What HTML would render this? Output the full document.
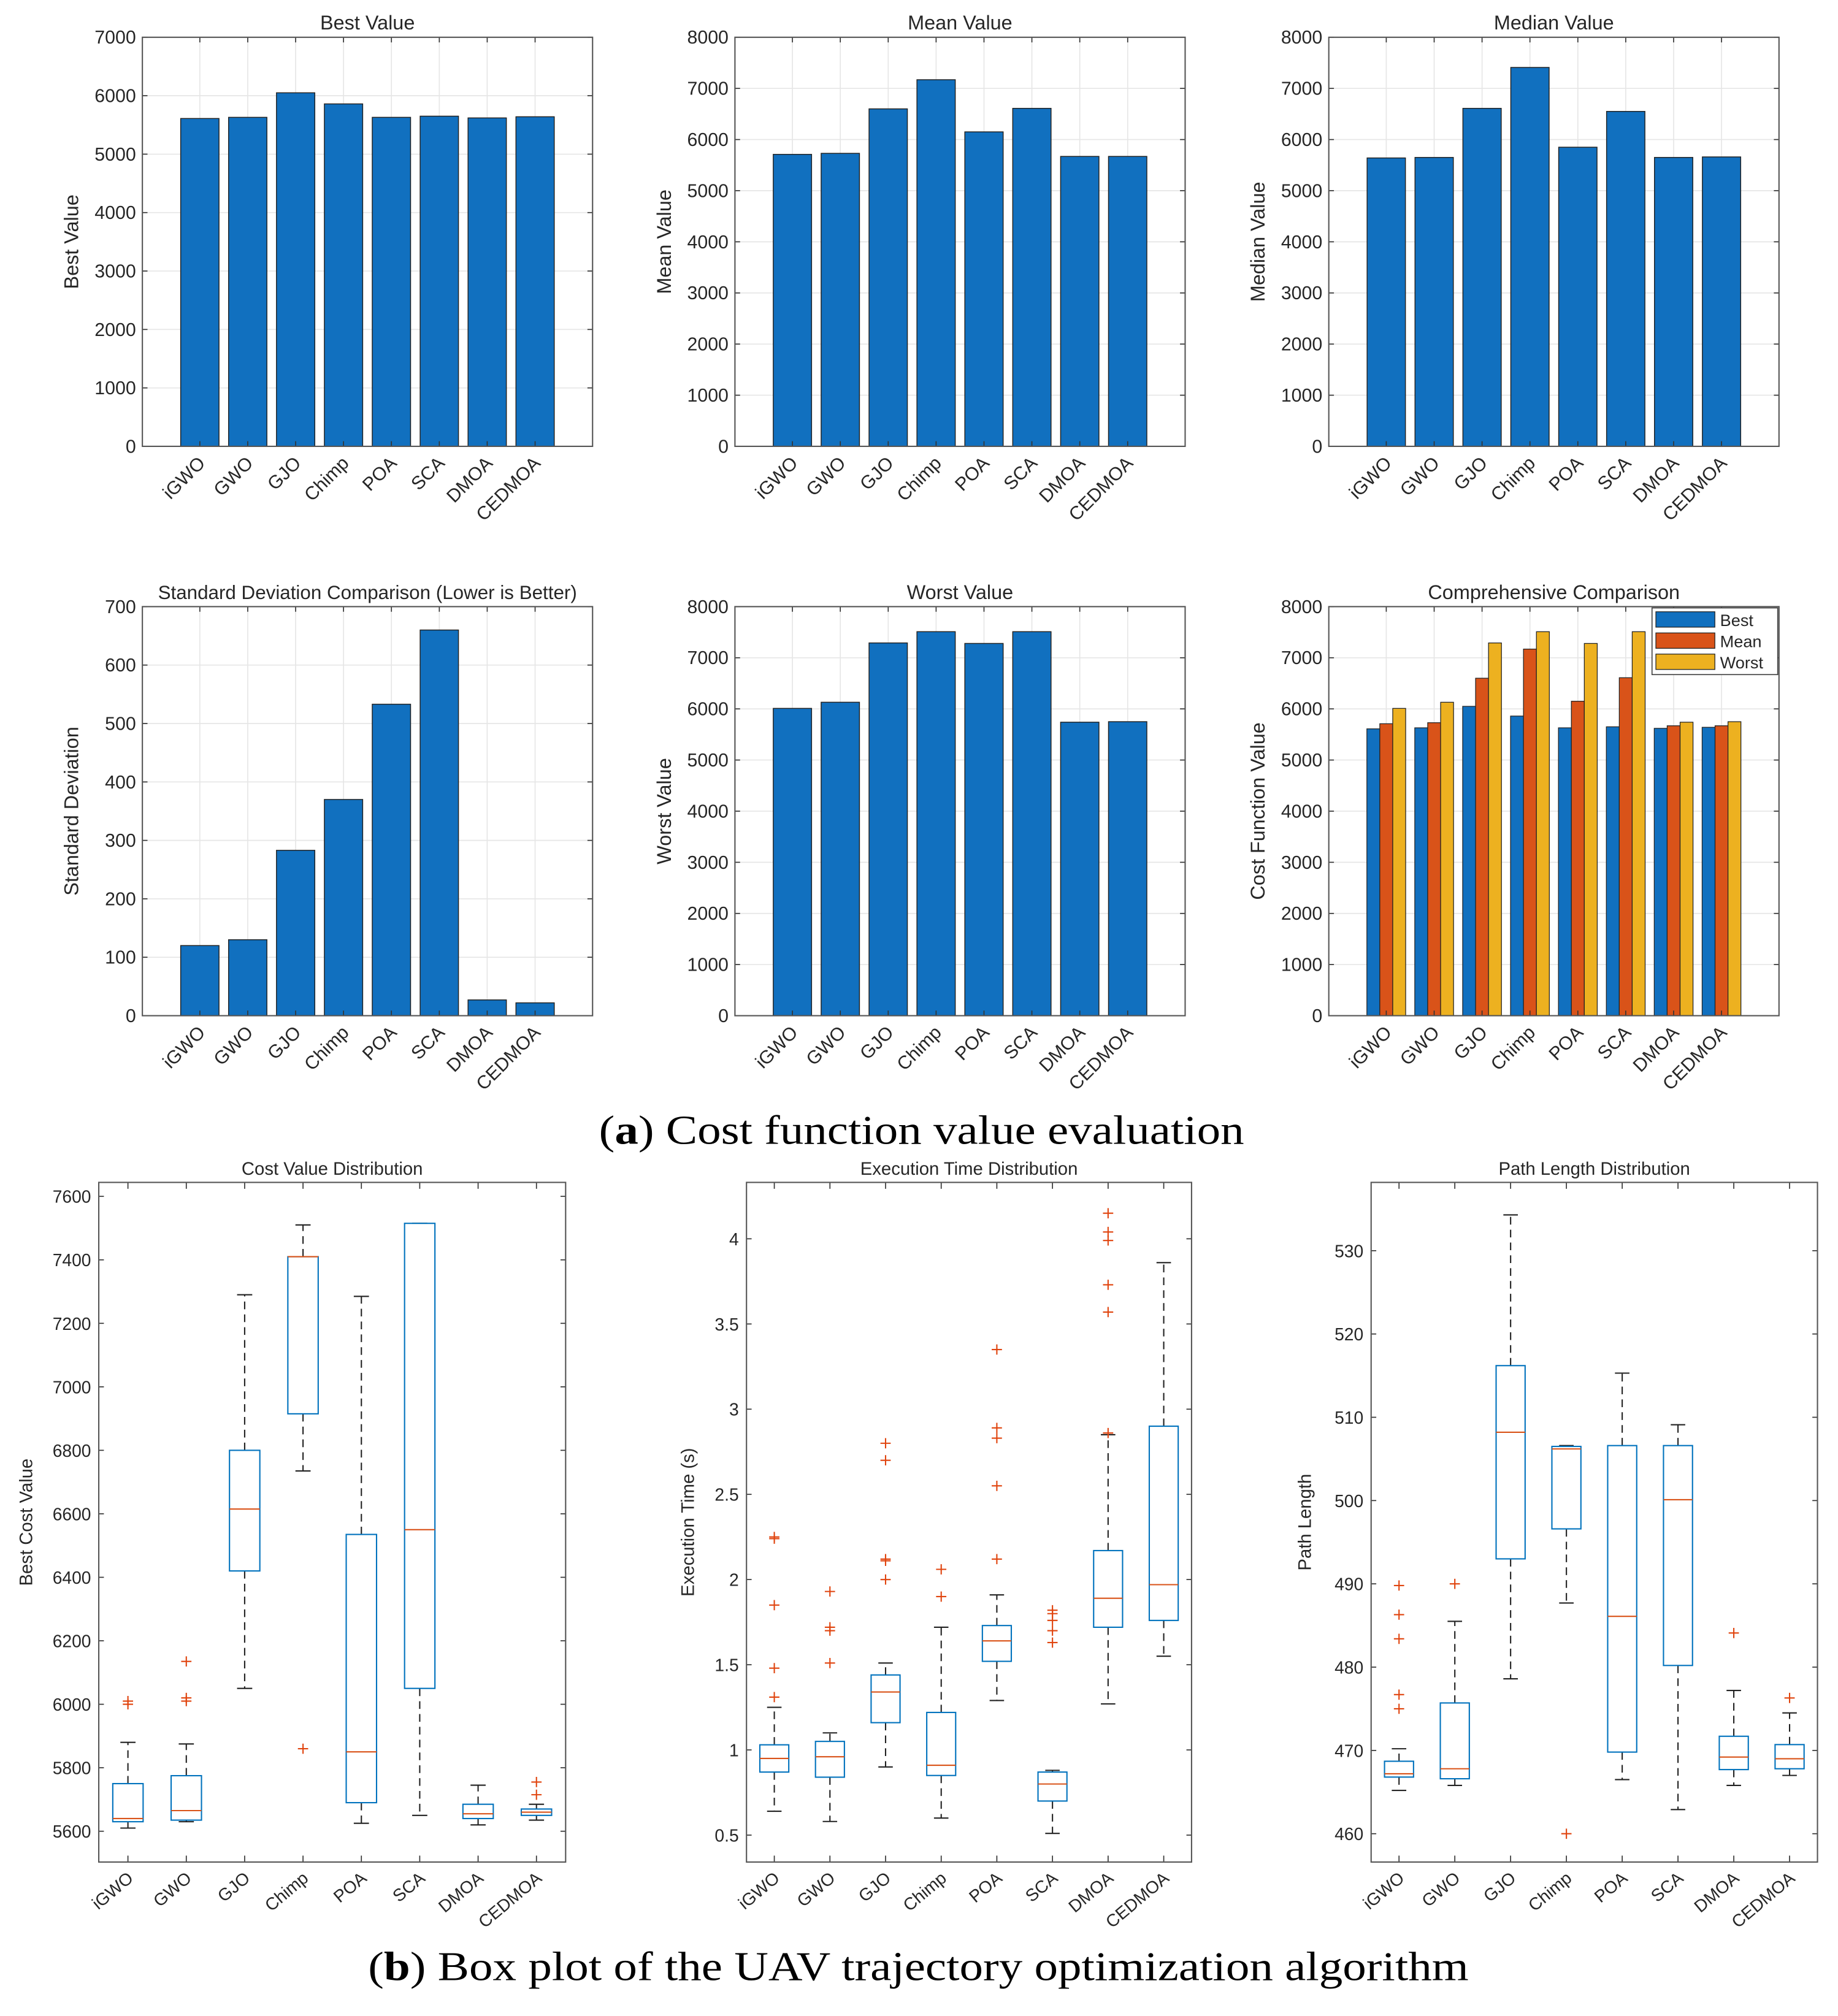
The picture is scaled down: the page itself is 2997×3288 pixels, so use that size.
<!DOCTYPE html>
<html><head><meta charset="utf-8">
<style>
html,body{margin:0;padding:0;background:#fff;}
svg{display:block;}
text{font-family:"Liberation Sans",Arial,sans-serif;fill:#262626;}
.cap{font-family:"Liberation Serif","Times New Roman",serif;fill:#000;}
</style></head>
<body>
<svg id="fig" xmlns="http://www.w3.org/2000/svg" width="2997" height="3288" viewBox="0 0 1433 1572">
<rect x="0" y="0" width="1433" height="1572" fill="#fff"/>
<text class="cap" x="467" y="892" font-size="32" textLength="503" lengthAdjust="spacingAndGlyphs">(<tspan font-weight="bold">a</tspan>) Cost function value evaluation</text>
<text class="cap" x="287" y="1544" font-size="32" textLength="858" lengthAdjust="spacingAndGlyphs">(<tspan font-weight="bold">b</tspan>) Box plot of the UAV trajectory optimization algorithm</text>
</svg>
<script>
const categories = ["iGWO","GWO","GJO","Chimp","POA","SCA","DMOA","CEDMOA"];
const bestValues = [5610,5630,6050,5860,5630,5650,5620,5640];
const meanValues = [5710,5730,6600,7170,6150,6610,5670,5670];
const medianValues = [5640,5650,6610,7410,5850,6550,5650,5660];
const stdValues = [120,130,283,370,533,660,27,22];
const worstValues = [6010,6130,7290,7510,7280,7510,5740,5750];
const ticks7000 = [0,1000,2000,3000,4000,5000,6000,7000];
const ticks8000 = [0,1000,2000,3000,4000,5000,6000,7000,8000];
const ticks700 = [0,100,200,300,400,500,600,700];
// box stats: [q1, median, q3, whiskerLow, whiskerHigh]
const costBoxes = [[5630,5640,5750,5610,5880],[5635,5665,5775,5630,5875],[6420,6615,6800,6050,7290],[6915,7410,7410,6735,7510],[5690,5850,6535,5625,7285],[6050,6550,7515,5650,7515],[5640,5655,5685,5620,5745],[5650,5660,5670,5635,5685]];
const costOutliers = [[6000,6010],[6010,6020,6135],[],[5860],[],[],[],[5715,5755]];
const timeBoxes = [[0.87,0.95,1.03,0.64,1.25],[0.84,0.96,1.05,0.58,1.10],[1.16,1.34,1.44,0.90,1.51],[0.85,0.91,1.22,0.60,1.72],[1.52,1.64,1.73,1.29,1.91],[0.70,0.80,0.87,0.51,0.88],[1.72,1.89,2.17,1.27,2.85],[1.76,1.97,2.90,1.55,3.86]];
const timeOutliers = [[1.31,1.48,1.85,2.24,2.25],[1.51,1.70,1.72,1.93],[2.00,2.11,2.12,2.70,2.80],[1.90,2.06],[2.12,2.55,2.83,2.89,3.35],[1.63,1.70,1.76,1.80,1.82],[2.86,3.57,3.73,3.99,4.04,4.15],[]];
const pathBoxes = [[466.8,467.2,468.7,465.2,470.2],[466.6,467.8,475.7,465.8,485.5],[493.0,508.2,516.2,478.6,534.3],[496.6,506.2,506.5,487.7,506.6],[469.8,486.1,506.6,466.5,515.3],[480.2,500.1,506.6,462.9,509.1],[467.7,469.2,471.7,465.8,477.2],[467.8,469.0,470.7,467.0,474.5]];
const pathOutliers = [[475,476.7,483.4,486.3,489.8],[490],[],[460],[],[],[484.1],[476.3]];
const costTicks = [5600,5800,6000,6200,6400,6600,6800,7000,7200,7400,7600];
const timeTicks = [0.5,1,1.5,2,2.5,3,3.5,4];
const timeTickLabels = ["0.5","1","1.5","2","2.5","3","3.5","4"];
const pathTicks = [460,470,480,490,500,510,520,530];
const seriesNames = ["Best","Mean","Worst"];

const NS="http://www.w3.org/2000/svg";
const svg=document.getElementById('fig');
function mk(tag,attrs,parent){const e=document.createElementNS(NS,tag);for(const k in attrs)e.setAttribute(k,attrs[k]);(parent||svg).appendChild(e);return e;}
const BLUE="#1170bf",ORANGE="#d95319",YELLOW="#edb120",BOXC="#0072bd";

function barAxes(name,x0,x1,y0,y1,ymax,ticks,title,ylabel,titleSize){
  const g=mk('g',{});
  
  
  const ys=v=>y1-(v/ymax)*(y1-y0);
  const xs=i=>x0+(i+1.2)*(x1-x0)/9.4;
  const step=(x1-x0)/9.4;
  mk('rect',{x:x0,y:y0,width:x1-x0,height:y1-y0,fill:'#fff'},g);
  ticks.forEach(t=>{
    mk('line',{x1:x0,x2:x1,y1:ys(t),y2:ys(t),stroke:'#e6e6e6','stroke-width':0.8},g);
    mk('line',{x1:x0,x2:x0+4,y1:ys(t),y2:ys(t),stroke:'#333','stroke-width':0.8},g);
    mk('line',{x1:x1,x2:x1-4,y1:ys(t),y2:ys(t),stroke:'#333','stroke-width':0.8},g);
    const tl=mk('text',{x:x0-5,y:ys(t)+5,'font-size':14.5,'text-anchor':'end'},g);
    
    
    tl.textContent=t;
  });
  categories.forEach((c,i)=>{
    mk('line',{x1:xs(i),x2:xs(i),y1:y0,y2:y1,stroke:'#e6e6e6','stroke-width':0.8},g);
  });
  const t=mk('text',{x:(x0+x1)/2,y:y0-6,'font-size':titleSize||15.5,'text-anchor':'middle'},g);
  
  
  t.textContent=title;
  const yl=mk('text',{x:0,y:0,'font-size':15.5,'text-anchor':'middle',transform:`translate(${x0-50},${(y0+y1)/2}) rotate(-90)`},g);
  
  
  yl.textContent=ylabel;
  return {g,xs,ys,step,finish(){
    categories.forEach((c,i)=>{
      mk('line',{x1:xs(i),x2:xs(i),y1:y1,y2:y1-4,stroke:'#333','stroke-width':0.8},g);
      mk('line',{x1:xs(i),x2:xs(i),y1:y0,y2:y0+4,stroke:'#333','stroke-width':0.8},g);
      const l=mk('text',{x:0,y:0,'font-size':14.5,'text-anchor':'end',transform:`translate(${xs(i)+5},${y1+14}) rotate(-45)`},g);
      
      
      l.textContent=c;
    });
    mk('rect',{x:x0,y:y0,width:x1-x0,height:y1-y0,fill:'none',stroke:'#555','stroke-width':1},g);
  }};
}
function simpleBar(name,x0,x1,y0,y1,ymax,ticks,vals,title,ylabel,ts){
  const a=barAxes(name,x0,x1,y0,y1,ymax,ticks,title,ylabel,ts);
  vals.forEach((v,i)=>{
    const w=a.step*0.8;
    const r=mk('rect',{x:a.xs(i)-w/2,y:a.ys(v),width:w,height:a.ys(0)-a.ys(v),fill:BLUE,stroke:'#222','stroke-width':0.7},a.g);
    
    
  });
  a.finish();
}
simpleBar('best-value-chart',111,462,29,348,7000,ticks7000,bestValues,'Best Value','Best Value');
simpleBar('mean-value-chart',573,924,29,348,8000,ticks8000,meanValues,'Mean Value','Mean Value');
simpleBar('median-value-chart',1036,1387,29,348,8000,ticks8000,medianValues,'Median Value','Median Value');
simpleBar('std-chart',111,462,473,792,700,ticks700,stdValues,'Standard Deviation Comparison (Lower is Better)','Standard Deviation',15);
simpleBar('worst-value-chart',573,924,473,792,8000,ticks8000,worstValues,'Worst Value','Worst Value');
(function(){
  const a=barAxes('comprehensive-chart',1036,1387,473,792,8000,ticks8000,'Comprehensive Comparison','Cost Function Value');
  const series=[bestValues,meanValues,worstValues],cols=[BLUE,ORANGE,YELLOW];
  const w=a.step*0.27;
  series.forEach((s,k)=>s.forEach((v,i)=>{
    const cx=a.xs(i)+(k-1)*w;
    const r=mk('rect',{x:cx-w/2,y:a.ys(v),width:w,height:a.ys(0)-a.ys(v),fill:cols[k],stroke:'#222','stroke-width':0.6},a.g);
    
    
  }));
  a.finish();
  const lg=mk('g',{},a.g);
  
  
  mk('rect',{x:1288,y:474,width:98,height:52,fill:'#fff',stroke:'#444','stroke-width':0.8},lg);
  seriesNames.forEach((n,k)=>{
    const y=477+k*16.5;
    mk('rect',{x:1291,y:y,width:46,height:12,fill:cols[k],stroke:'#222','stroke-width':0.6},lg);
    const t=mk('text',{x:1341,y:y+11,'font-size':13},lg);
    
    
    t.textContent=n;
  });
})();

function boxChart(name,x0,x1,y0,y1,ymin,ymax,ticks,tickLabels,boxes,outs,title,ylabel,ylx){
  const g=mk('g',{});
  
  
  const ys=v=>y1-(v-ymin)/(ymax-ymin)*(y1-y0);
  const step=(x1-x0)/8;
  const xs=i=>x0+(i+0.5)*step;
  ticks.forEach((t,j)=>{
    mk('line',{x1:x0,x2:x0+4,y1:ys(t),y2:ys(t),stroke:'#333','stroke-width':0.8},g);
    mk('line',{x1:x1,x2:x1-4,y1:ys(t),y2:ys(t),stroke:'#333','stroke-width':0.8},g);
    const tl=mk('text',{x:x0-6,y:ys(t)+5,'font-size':13.5,'text-anchor':'end'},g);
    
    
    tl.textContent=tickLabels[j];
  });
  const t=mk('text',{x:(x0+x1)/2,y:y0-6,'font-size':14,'text-anchor':'middle'},g);
  
  
  t.textContent=title;
  const yl=mk('text',{x:0,y:0,'font-size':14,'text-anchor':'middle',transform:`translate(${ylx},${(y0+y1)/2}) rotate(-90)`},g);
  
  
  yl.textContent=ylabel;
  const bw=step*0.52, cw=step*0.26;
  boxes.forEach((b,i)=>{
    const cx=xs(i);
    const bg=mk('g',{},g);
    
    
    mk('line',{x1:cx,x2:cx,y1:ys(b[2]),y2:ys(b[4]),stroke:'#222','stroke-width':1,'stroke-dasharray':'6,4'},bg);
    mk('line',{x1:cx,x2:cx,y1:ys(b[0]),y2:ys(b[3]),stroke:'#222','stroke-width':1,'stroke-dasharray':'6,4'},bg);
    mk('line',{x1:cx-cw/2,x2:cx+cw/2,y1:ys(b[4]),y2:ys(b[4]),stroke:'#222','stroke-width':1},bg);
    mk('line',{x1:cx-cw/2,x2:cx+cw/2,y1:ys(b[3]),y2:ys(b[3]),stroke:'#222','stroke-width':1},bg);
    mk('rect',{x:cx-bw/2,y:ys(b[2]),width:bw,height:Math.max(ys(b[0])-ys(b[2]),0.5),fill:'#fff',stroke:BOXC,'stroke-width':1},bg);
    mk('line',{x1:cx-bw/2,x2:cx+bw/2,y1:ys(b[1]),y2:ys(b[1]),stroke:ORANGE,'stroke-width':1},bg);
    outs[i].forEach(o=>{
      const p=mk('path',{d:`M${cx-4},${ys(o)}h8M${cx},${ys(o)-4}v8`,stroke:'#e0440e','stroke-width':1},bg);
      
      
    });
  });
  categories.forEach((c,i)=>{
    mk('line',{x1:xs(i),x2:xs(i),y1:y1,y2:y1-5,stroke:'#333','stroke-width':0.8},g);
    mk('line',{x1:xs(i),x2:xs(i),y1:y0,y2:y0+5,stroke:'#333','stroke-width':0.8},g);
    const l=mk('text',{x:0,y:0,'font-size':13.5,'text-anchor':'end',transform:`translate(${xs(i)+5},${y1+14}) rotate(-40)`},g);
    
    
    l.textContent=c;
  });
  mk('rect',{x:x0,y:y0,width:x1-x0,height:y1-y0,fill:'none',stroke:'#555','stroke-width':1},g);
}
boxChart('cost-distribution-chart',77,441,922,1452,5503,7644,costTicks,costTicks.map(String),costBoxes,costOutliers,'Cost Value Distribution','Best Cost Value',25);
boxChart('time-distribution-chart',582,929,922,1452,0.342,4.331,timeTicks,timeTickLabels,timeBoxes,timeOutliers,'Execution Time Distribution','Execution Time (s)',541);
boxChart('path-distribution-chart',1069,1417,922,1452,456.6,538.2,pathTicks,pathTicks.map(String),pathBoxes,pathOutliers,'Path Length Distribution','Path Length',1022);
</script>
</body></html>
